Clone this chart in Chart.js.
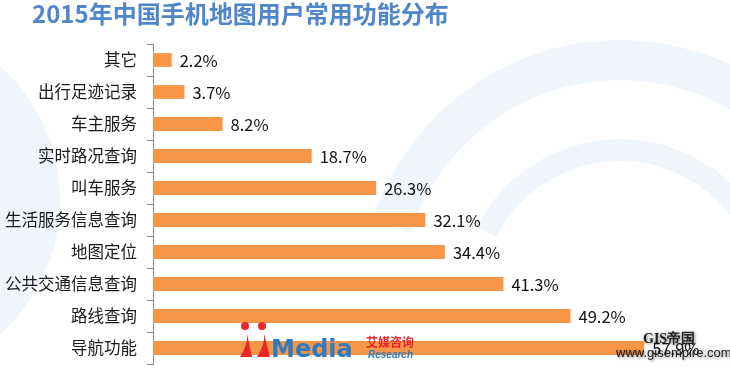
<!DOCTYPE html>
<html>
<head>
<meta charset="utf-8">
<script src="https://cdn.jsdelivr.net/npm/chart.js@4/dist/chart.umd.min.js"></script>
<style>
  html, body { margin: 0; padding: 0; background: #fff; }
  #wrap { width: 730px; height: 368px; position: relative; }
</style>
</head>
<body>
<div id="wrap"><canvas id="barChart"></canvas></div>
<script>
// DATA
let chartTitle = '2015年中国手机地图用户常用功能分布';
let barLabels = ['其它', '出行足迹记录', '车主服务', '实时路况查询', '叫车服务',
                 '生活服务信息查询', '地图定位', '公共交通信息查询', '路线查询', '导航功能'];
let barValues = [2.2, 3.7, 8.2, 18.7, 26.3, 32.1, 34.4, 41.3, 49.2, 57.9];

let barColor = '#F79646';
let cjkFont = '"Noto Sans CJK SC", "Microsoft YaHei", sans-serif';

// background, title, value labels and watermarks
let decoPlugin = {
    id: 'deco',
    beforeDraw(chart) {
        let ctx = chart.ctx;
        ctx.save();
        ctx.fillStyle = '#fff';
        ctx.fillRect(0, 0, chart.width, chart.height);
        // faint background arcs
        ctx.strokeStyle = 'rgba(228,237,249,0.55)';
        ctx.lineWidth = 40;
        ctx.beginPath();
        ctx.arc(620, 300, 240, Math.PI * 1.1, Math.PI * 1.95);
        ctx.stroke();
        ctx.lineWidth = 22;
        ctx.beginPath();
        ctx.arc(620, 300, 150, Math.PI * 1.15, Math.PI * 1.9);
        ctx.stroke();
        ctx.lineWidth = 60;
        ctx.beginPath();
        ctx.arc(-120, 200, 150, -Math.PI * 0.35, Math.PI * 0.35);
        ctx.stroke();
        ctx.restore();
    },
    afterDatasetsDraw(chart) {
        let ctx = chart.ctx;
        ctx.save();
        // value labels
        ctx.font = '16.5px ' + cjkFont;
        ctx.fillStyle = '#111';
        ctx.textBaseline = 'middle';
        ctx.textAlign = 'left';
        chart.getDatasetMeta(0).data.forEach((bar, i) => {
            ctx.fillText(barValues[i].toFixed(1) + '%', bar.x + 8, bar.y + 1);
        });
        // title
        ctx.font = 'bold 24px ' + cjkFont;
        ctx.fillStyle = '#4F86C9';
        ctx.textBaseline = 'middle';
        ctx.fillText(chartTitle, 32, 14);
        // iMedia logo
        ctx.fillStyle = '#E8262C';
        ctx.beginPath(); ctx.arc(245, 326, 4, 0, Math.PI * 2); ctx.fill();
        ctx.beginPath(); ctx.arc(262, 326, 4, 0, Math.PI * 2); ctx.fill();
        ctx.beginPath();
        ctx.moveTo(240, 357); ctx.quadraticCurveTo(248, 345, 247, 334); ctx.lineTo(252, 357); ctx.closePath(); ctx.fill();
        ctx.beginPath();
        ctx.moveTo(257, 357); ctx.quadraticCurveTo(265, 345, 264, 334); ctx.lineTo(270, 357); ctx.closePath(); ctx.fill();
        ctx.fillStyle = '#2D7BC4';
        ctx.font = 'bold 24px "DejaVu Sans", sans-serif';
        ctx.textBaseline = 'alphabetic';
        ctx.fillText('Media', 271, 357);
        ctx.fillStyle = '#E8262C';
        ctx.font = 'bold 12px ' + cjkFont;
        ctx.fillText('艾媒咨询', 366, 347);
        ctx.fillStyle = '#2D7BC4';
        ctx.font = 'italic bold 10px "Liberation Sans", sans-serif';
        ctx.fillText('Research', 368, 358);
        // GIS watermark
        ctx.shadowColor = 'rgba(0,0,0,0.5)';
        ctx.shadowBlur = 3;
        ctx.shadowOffsetX = 1;
        ctx.shadowOffsetY = 1;
        ctx.fillStyle = '#222';
        ctx.font = 'bold 14px "Liberation Serif", serif';
        ctx.fillText('GIS帝国', 643, 343);
        ctx.font = '13px "Liberation Sans", sans-serif';
        ctx.fillText('www.gisempire.com', 616, 357);
        ctx.restore();
    }
};

let barChartCtx = document.getElementById('barChart').getContext('2d');
let barChart = new Chart(barChartCtx, {
    type: 'bar',
    data: {
        labels: barLabels,
        datasets: [{
            data: barValues,
            backgroundColor: barColor,
            borderWidth: 0,
            barPercentage: 0.9,
            categoryPercentage: 0.48
        }]
    },
    options: {
        indexAxis: 'y',
        responsive: true,
        maintainAspectRatio: false,
        animation: false,
        layout: { padding: { top: 44, bottom: 4, left: 0, right: 0 } },
        plugins: {
            legend: { display: false },
            tooltip: { enabled: false }
        },
        scales: {
            x: {
                display: false,
                min: 0,
                max: 68
            },
            y: {
                afterFit(scale) {
                    scale.width = 153;
                    scale.paddingTop = 0;
                    scale.paddingBottom = 0;
                },
                grid: {
                    offset: true,
                    drawOnChartArea: false,
                    drawTicks: true,
                    tickLength: 6,
                    color: '#8c8c8c'
                },
                border: { display: true, color: '#8c8c8c', width: 1 },
                ticks: {
                    padding: 10,
                    color: '#1a1a1a',
                    font: { size: 16.5, family: cjkFont }
                }
            }
        }
    },
    plugins: [decoPlugin]
});
</script>
</body>
</html>
